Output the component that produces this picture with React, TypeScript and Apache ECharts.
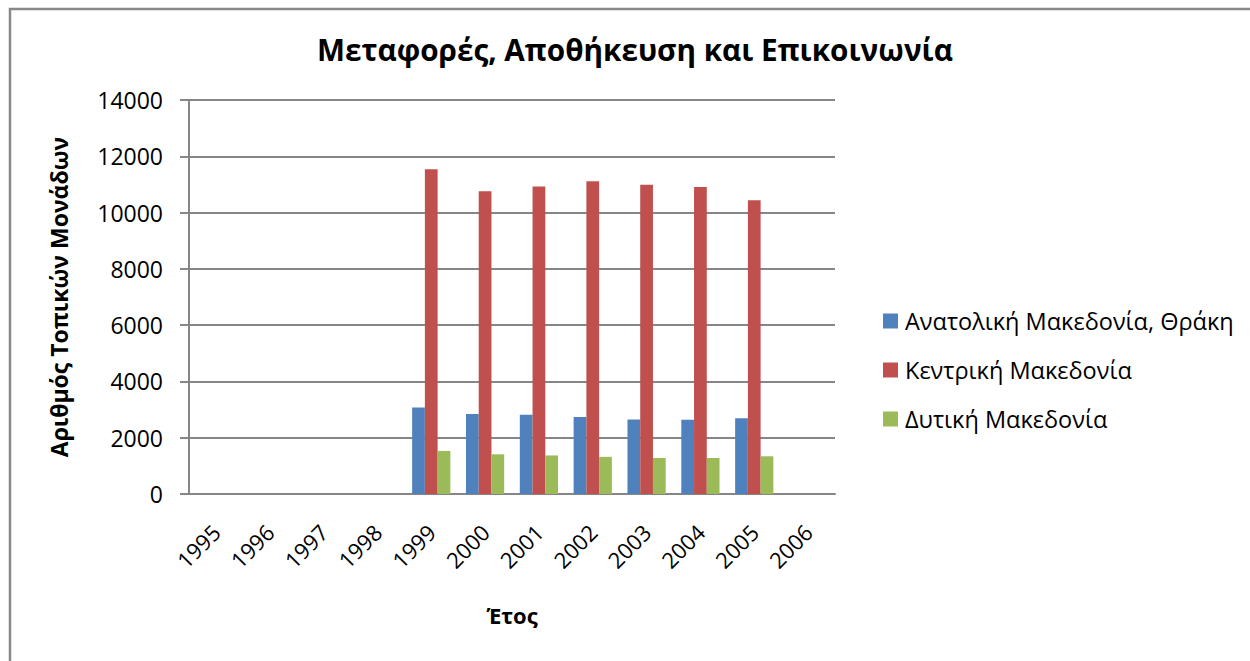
import React, { useEffect, useRef } from "react";
import * as echarts from "echarts";

const years = ["1995", "1996", "1997", "1998", "1999", "2000", "2001", "2002", "2003", "2004", "2005", "2006"];
const seriesNames = ["Ανατολική Μακεδονία, Θράκη", "Κεντρική Μακεδονία", "Δυτική Μακεδονία"];
const anatoliki = [null, null, null, null, 3070, 2840, 2820, 2740, 2650, 2640, 2690, null];
const kentriki = [null, null, null, null, 11540, 10760, 10930, 11110, 10990, 10910, 10440, null];
const dytiki = [null, null, null, null, 1530, 1410, 1370, 1320, 1280, 1280, 1340, null];
const colors = ["#4F81BD", "#C0504D", "#9BBB59"];

const FONT = "'Open Sans', 'Noto Sans', sans-serif";

export default function App() {
  const ref = useRef<HTMLDivElement>(null);
  useEffect(() => {
    document.body.style.margin = "0";
    const chart = echarts.init(ref.current!, null, { renderer: "svg" });
    const data = [anatoliki, kentriki, dytiki];
    chart.setOption({
      animation: false,
      backgroundColor: "#ffffff",
      title: {
        text: "Μεταφορές, Αποθήκευση και Επικοινωνία",
        left: 312,
        top: 29,
        textStyle: { fontFamily: FONT, fontWeight: "bold", fontSize: 29.7, color: "#000" },
      },
      graphic: [
        {
          type: "rect",
          shape: { x: 10, y: 9, width: 1270, height: 700 },
          style: { fill: "none", stroke: "#888888", lineWidth: 2.5 },
          silent: true,
        },
      ],
      legend: {
        orient: "vertical",
        left: 878,
        top: 304,
        itemWidth: 15,
        itemHeight: 15,
        itemGap: 25,
        icon: "rect",
        data: seriesNames,
        textStyle: { fontFamily: FONT, fontSize: 23.5, color: "#000", padding: [0, 0, 0, 2] },
      },
      grid: { left: 189, right: 415, top: 100, bottom: 167, containLabel: false },
      xAxis: {
        type: "category",
        data: years,
        name: "Έτος",
        nameLocation: "middle",
        nameGap: 110,
        nameTextStyle: { fontFamily: FONT, fontWeight: "bold", fontSize: 22, color: "#000" },
        axisLine: { lineStyle: { color: "#868686", width: 2 } },
        axisTick: { show: false },
        axisLabel: { rotate: 45, fontFamily: FONT, fontSize: 22, color: "#000", margin: 34 },
      },
      yAxis: {
        type: "value",
        min: 0,
        max: 14000,
        interval: 2000,
        name: "Αριθμός Τοπικών Μονάδων",
        nameLocation: "middle",
        nameGap: 119,
        nameTextStyle: { fontFamily: FONT, fontWeight: "bold", fontSize: 23, color: "#000" },
        axisLine: { show: true, lineStyle: { color: "#868686", width: 2 } },
        axisTick: { show: true, length: 9, lineStyle: { color: "#868686", width: 2 } },
        axisLabel: { fontFamily: FONT, fontSize: 23, color: "#000", margin: 26, formatter: (v: number) => String(v) },
        splitLine: { lineStyle: { color: "#868686", width: 2 } },
      },
      series: seriesNames.map((n, i) => ({
        name: n,
        type: "bar",
        data: data[i],
        barGap: "0%",
        barCategoryGap: "29%",
        itemStyle: { color: colors[i] },
      })),
    });
    return () => chart.dispose();
  }, []);
  return <div ref={ref} style={{ width: 1250, height: 661 }} />;
}
